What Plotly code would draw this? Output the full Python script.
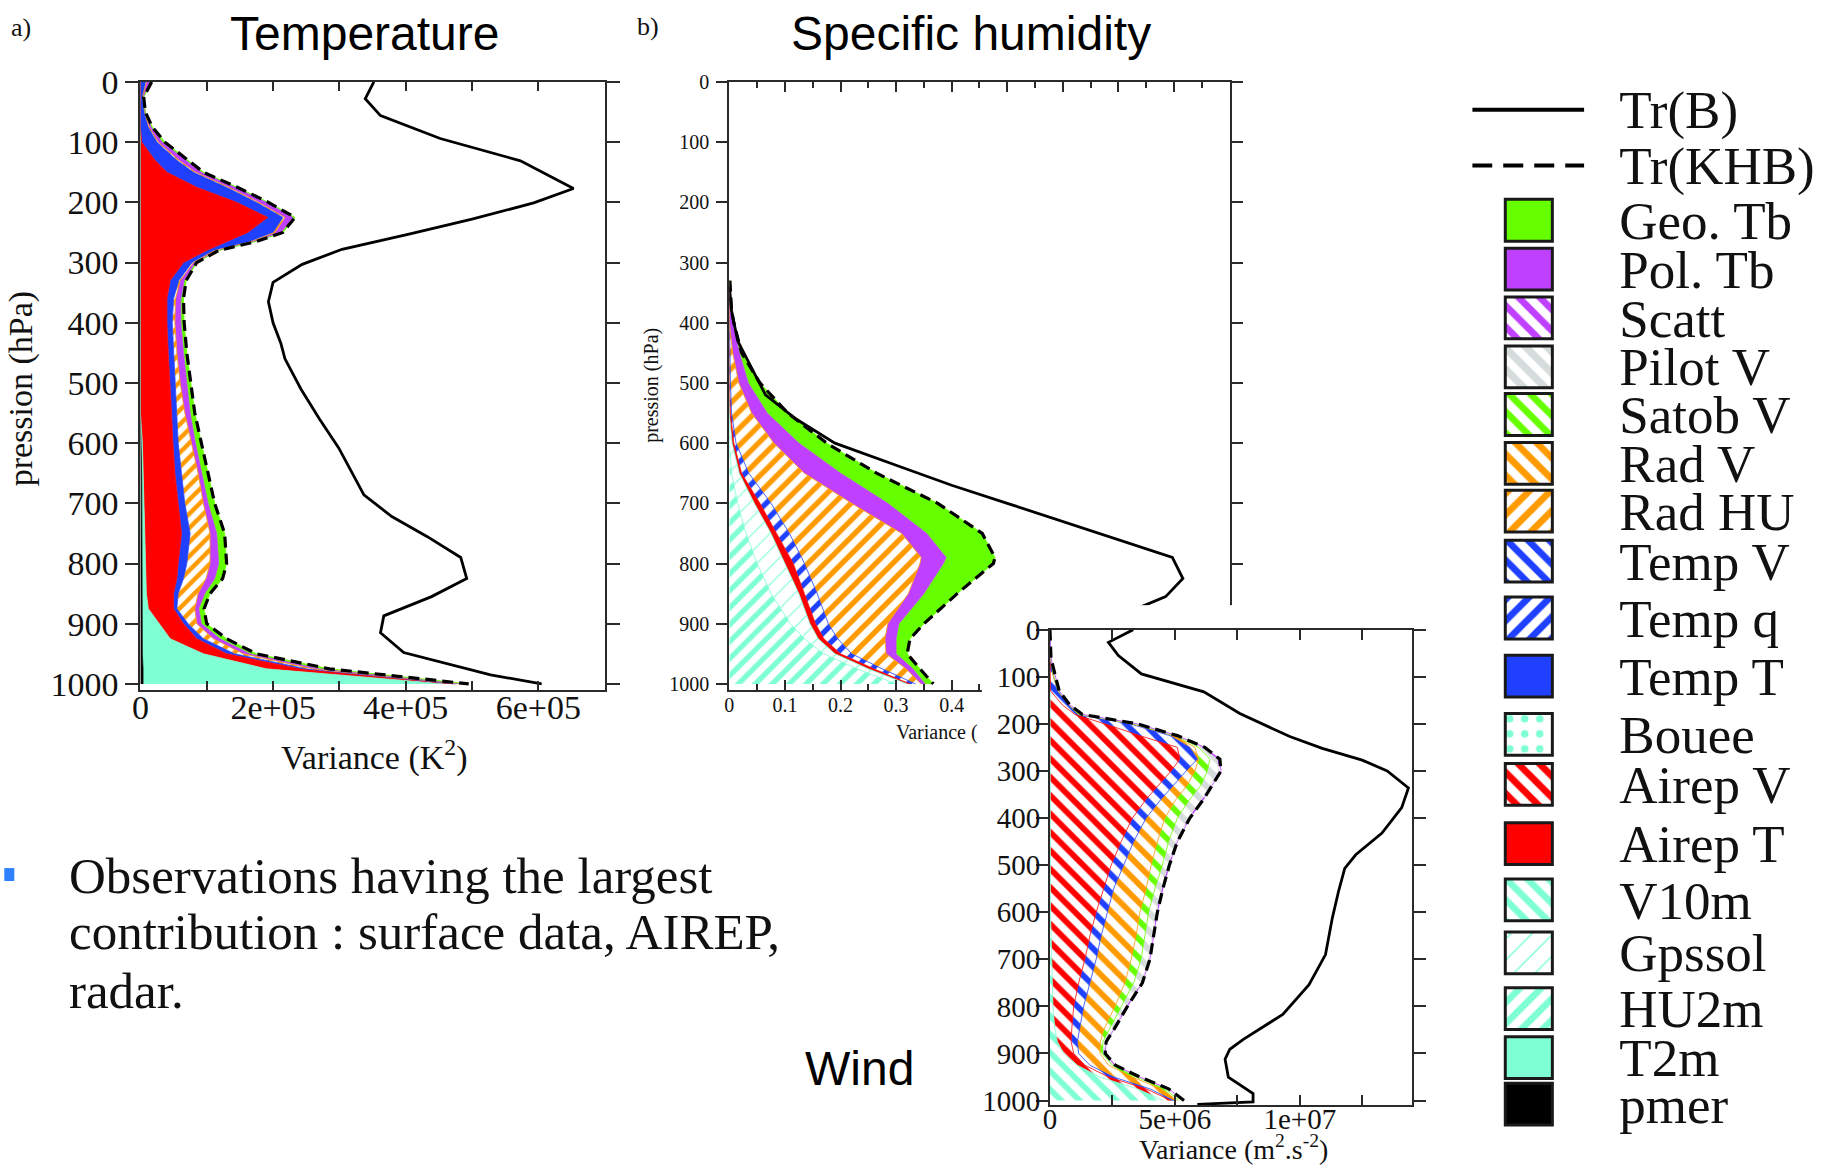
import numpy as np
import plotly.graph_objects as go

FIG_W, FIG_H = 1831, 1173

# ---------------------------------------------------------------- data
P_TICKS = [0, 100, 200, 300, 400, 500, 600, 700, 800, 900, 1000]

# Temperature: contributions to Tr(KHB), stored in units of 1e5 K^2
T_SCALE = 1e5
T_LEV = [0, 25, 50, 75, 100, 130, 150, 175, 200, 225, 250, 265, 280, 300, 330, 360,
         400, 450, 500, 550, 600, 650, 700, 750, 800, 825, 850, 875, 900, 925, 950, 975, 1000]
T_PMER = [0] * 20 + [0.01, 0.02, 0.02, 0.03, 0.03, 0.03, 0.03, 0.03, 0.03, 0.03, 0.03, 0.04, 0.04]
T_T2M = [0] * 20 + [0.02, 0.02, 0.03, 0.04, 0.05, 0.05, 0.06, 0.09, 0.25, 0.42, 0.92, 1.86, 4.56]
T_AIREP_T = [0, 0, 0, 0, 0.02, 0.22, 0.4, 0.85, 1.45, 1.92, 1.62, 1.3, 1.0, 0.65, 0.45, 0.4,
             0.4, 0.42, 0.45, 0.47, 0.46, 0.48, 0.52, 0.55, 0.49, 0.47, 0.41, 0.38, 0.37, 0.4, 0.35, 0.5, 0.12]
T_TEMP_T = [0.08, 0.03, 0.06, 0.12, 0.23, 0.33, 0.4, 0.45, 0.3, 0.23, 0.38, 0.35, 0.1, 0.13, 0.13, 0.1,
            0.08, 0.08, 0.08, 0.08, 0.08, 0.1, 0.1, 0.13, 0.13, 0.1, 0.07, 0.05, 0.07, 0.1, 0.12, 0.1, 0.04]
T_RAD_HU = [0.01, 0.005, 0.005, 0.01, 0.02, 0.03, 0.03, 0.03, 0.03, 0.03, 0.03, 0.03, 0.03, 0.02, 0.02, 0.03,
            0.04, 0.05, 0.07, 0.12, 0.2, 0.25, 0.28, 0.3, 0.35, 0.34, 0.3, 0.27, 0.13, 0.15, 0.13, 0.1, 0.06]
T_POL_TB = [0.05, 0.01, 0.007, 0.03, 0.06, 0.1, 0.09, 0.1, 0.12, 0.12, 0.09, 0.04, 0.03, 0.03, 0.06, 0.08,
            0.09, 0.1, 0.1, 0.08, 0.06, 0.05, 0.07, 0.1, 0.13, 0.13, 0.1, 0.06, 0.07, 0.1, 0.1, 0.1, 0.04]
T_GEO_TB = [0.03, 0.005, 0.003, 0.02, 0.04, 0.04, 0.03, 0.03, 0.03, 0.03, 0.03, 0.03, 0.02, 0.02, 0.03, 0.04,
            0.05, 0.05, 0.06, 0.07, 0.09, 0.1, 0.1, 0.12, 0.12, 0.12, 0.08, 0.08, 0.08, 0.1, 0.1, 0.15, 0.09]
T_TRB_LEV = [0, 28, 56, 94, 131, 177, 201, 228, 253, 278, 303, 333, 365, 400, 435, 460, 510, 560,
             608, 686, 722, 755, 790, 825, 855, 887, 915, 948, 985, 1000]
T_TRB = [3.52, 3.39, 3.62, 4.52, 5.73, 6.53, 5.93, 5.0, 4.05, 3.04, 2.44, 2.0, 1.93, 2.0, 2.12, 2.18, 2.42, 2.7,
         2.99, 3.37, 3.79, 4.32, 4.83, 4.92, 4.39, 3.67, 3.62, 3.97, 5.28, 6.05]
T_XTICKS = [0, 2e5, 4e5, 6e5]
T_XTICKTEXT = ["0", "2e+05", "4e+05", "6e+05"]

# Specific humidity: contributions to Tr(KHB)
Q_LEV = [330, 380, 400, 450, 500, 550, 600, 650, 700, 750, 790, 800, 850, 900, 925, 950, 975, 1000]
Q_HU2M = [0, 0, 0, 0, 0, 0, 0, 0.004, 0.015, 0.03, 0.045, 0.05, 0.075, 0.11, 0.135, 0.17, 0.23, 0.3]
Q_GPSSOL = [0, 0, 0, 0, 0, 0, 0.005, 0.014, 0.03, 0.045, 0.05, 0.05, 0.05, 0.035, 0.025, 0.02, 0.02, 0.02]
Q_AIREP_T = [0, 0, 0, 0, 0, 0.002, 0.003, 0.004, 0.01, 0.01, 0.013, 0.015, 0.01, 0.01, 0.01, 0.01, 0.01, 0.005]
Q_TEMP_Q = [0, 0, 0, 0.001, 0.002, 0.002, 0.004, 0.013, 0.02, 0.023, 0.022, 0.02, 0.023, 0.023, 0.025, 0.02, 0.015, 0.01]
Q_RAD_HU = [0, 0, 0, 0.005, 0.015, 0.036, 0.068, 0.1, 0.145, 0.202, 0.215, 0.208, 0.164, 0.107, 0.085, 0.062, 0.043, 0.01]
Q_POL_TB = [0, 0.002, 0.006, 0.012, 0.017, 0.028, 0.045, 0.065, 0.065, 0.045, 0.045, 0.042, 0.028, 0.02, 0.02, 0.018, 0.012, 0.007]
Q_GEO_TB = [0.001, 0.002, 0.002, 0.004, 0.021, 0.037, 0.05, 0.065, 0.09, 0.1, 0.088, 0.09, 0.06, 0.045, 0.025, 0.02, 0.013, 0.015]
Q_TRB_LEV = [340, 380, 430, 478, 520, 560, 600, 640, 670, 700, 730, 760, 790, 825, 855, 880]
Q_TRB = [0, 0.004, 0.015, 0.042, 0.065, 0.12, 0.19, 0.31, 0.4, 0.5, 0.6, 0.7, 0.797, 0.816, 0.785, 0.72]
Q_XTICKS = [0, 0.1, 0.2, 0.3, 0.4]

# Wind: contributions to Tr(KHB), stored in units of 1e6 m^2 s^-2
V_SCALE = 1e6
V_LEV = [0, 30, 60, 95, 130, 160, 180, 200, 225, 250, 275, 300, 330, 360, 400, 450, 500, 550,
         600, 650, 700, 750, 800, 850, 875, 900, 925, 950, 975, 1000]
V_V10M = [0] * 18 + [0.02, 0.05, 0.07, 0.09, 0.12, 0.2, 0.3, 0.55, 1.1, 2.0, 3.5, 4.55]
V_AIREP_V = [0, 0, 0, 0, 0.02, 0.5, 1.0, 2.2, 3.6, 5.1, 5.2, 4.85, 4.35, 3.85, 3.3, 2.85, 2.45, 2.15,
             1.83, 1.55, 1.33, 1.06, 0.83, 0.67, 0.55, 0.4, 0.3, 0.35, 0.35, 0.3]
V_TEMP_V = [0, 0.01, 0.03, 0.12, 0.28, 0.25, 0.1, 1.0, 1.2, 0.5, 0.7, 0.6, 0.6, 0.6, 0.55, 0.5, 0.5, 0.4,
            0.45, 0.45, 0.45, 0.45, 0.4, 0.31, 0.25, 0.2, 0.2, 0.2, 0.15, 0.1]
V_RAD_V = [0, 0, 0, 0, 0.02, 0.02, 0.05, 0.1, 0.2, 0.2, 0.05, 0.35, 0.55, 0.6, 0.75, 0.95, 1.1, 1.3,
           1.3, 1.4, 1.4, 1.4, 1.25, 0.97, 0.92, 0.85, 0.75, 0.75, 0.45, 0.15]
V_SATOB_V = [0, 0, 0, 0.02, 0.01, 0.01, 0.02, 0.05, 0.02, 0.15, 0.45, 0.5, 0.55, 0.55, 0.5, 0.45, 0.45, 0.35,
             0.35, 0.35, 0.4, 0.35, 0.25, 0.2, 0.1, 0.1, 0.15, 0.15, 0.15, 0.08]
V_PILOT_V = [0, 0, 0, 0.03, 0.02, 0.01, 0.08, 0.1, 0.05, 0.17, 0.3, 0.45, 0.37, 0.48, 0.43, 0.29, 0.23, 0.27,
             0.3, 0.3, 0.3, 0.3, 0.2, 0.16, 0.1, 0.08, 0.08, 0.1, 0.1, 0.13]
V_SCATT = [0, 0, 0.01, 0.03, 0.02, 0.01, 0.05, 0.05, 0.03, 0.08, 0.1, 0.1, 0.08, 0.07, 0.07, 0.06, 0.05, 0.05,
           0.05, 0.05, 0.05, 0.05, 0.05, 0.04, 0.03, 0.03, 0.04, 0.05, 0.05, 0.06]
V_TRB_LEV = [0, 27, 55, 94, 132, 178, 227, 252, 277, 300, 336, 378, 432, 478, 507, 556, 613, 690,
             754, 817, 870, 891, 912, 950, 985, 1003, 1008]
V_TRB = [3.33, 2.34, 2.74, 3.66, 6.16, 7.6, 9.6, 10.9, 12.5, 13.5, 14.35, 14.08, 13.29, 12.24, 11.8, 11.55, 11.3,
         11.03, 10.37, 9.32, 7.74, 7.2, 7.01, 7.14, 8.13, 8.13, 5.9]
V_XTICKS = [0, 5e6, 1e7]
V_XTICKTEXT = ["0", "5e+06", "1e+07"]

LEGEND_LABELS = ["Tr(B)", "Tr(KHB)", "Geo. Tb", "Pol. Tb", "Scatt", "Pilot V", "Satob V", "Rad V",
                 "Rad HU", "Temp V", "Temp q", "Temp T", "Bouee", "Airep V", "Airep T", "V10m",
                 "Gpssol", "HU2m", "T2m", "pmer"]

# ---------------------------------------------------------------- styles
GREEN, PURPLE, GREY = "#66ff00", "#bf40ff", "#d6dcdc"
ORANGE, BLUE, AQUA, RED, BLACK = "#ff9a00", "#1f40ff", "#7fffd4", "#ff0000", "#000000"
FRAME = "#2a2a2a"
SERIF = "Liberation Serif, Times New Roman, serif"
SANS = "Liberation Sans, Arial, sans-serif"

# name -> (colour, pattern shape, pattern solidity)
STYLE = {
    "Geo. Tb": (GREEN, "", 1), "Pol. Tb": (PURPLE, "", 1), "Scatt": (PURPLE, "\\", 0.45),
    "Pilot V": (GREY, "\\", 0.5), "Satob V": (GREEN, "\\", 0.45), "Rad V": (ORANGE, "\\", 0.45),
    "Rad HU": (ORANGE, "/", 0.45), "Temp V": (BLUE, "\\", 0.45), "Temp q": (BLUE, "/", 0.45),
    "Temp T": (BLUE, "", 1), "Bouee": (AQUA, ".", 0.2), "Airep V": (RED, "\\", 0.45),
    "Airep T": (RED, "", 1), "V10m": (AQUA, "\\", 0.45), "Gpssol": (AQUA, "/", 0.1),
    "HU2m": (AQUA, "/", 0.45), "T2m": (AQUA, "", 1), "pmer": (BLACK, "", 1),
}

# page placement of the chart inside the browser view (offset and scale)
OX, SX = 7.7, 0.995
OY, SY = 16.4, 0.9776


def px_x(px):
    return ((px - OX) / SX) / FIG_W


def px_y(py):
    return min(1.0, max(0.0, 1 - ((py - OY) / SY) / FIG_H))


fig = go.Figure()


def add_stack(series, levels, scale, xa, ya, group, size=12):
    for name, vals in series:
        color, shape, sol = STYLE[name]
        kw = dict(x=np.array(vals) * scale, y=levels, mode="lines", stackgroup=group,
                  orientation="h", line=dict(width=0.8, color=color), name=name,
                  xaxis=xa, yaxis=ya, showlegend=False, hoverinfo="skip")
        if shape:
            kw["fillpattern"] = dict(shape=shape, fgcolor=color, bgcolor="white", size=size,
                                     solidity=sol, fillmode="replace")
            kw["fillcolor"] = "white"
        else:
            kw["fillcolor"] = color
        fig.add_trace(go.Scatter(**kw))
    total = np.sum([np.array(v) for _, v in series], axis=0) * scale
    fig.add_trace(go.Scatter(x=total, y=levels, mode="lines", xaxis=xa, yaxis=ya,
                             line=dict(color=BLACK, width=3.2, dash="11px,6px"),
                             showlegend=False, hoverinfo="skip"))


def add_trb(vals, levels, scale, xa, ya):
    fig.add_trace(go.Scatter(x=np.array(vals) * scale, y=levels, mode="lines", xaxis=xa, yaxis=ya,
                             line=dict(color=BLACK, width=2.8), showlegend=False, hoverinfo="skip"))


# a) Temperature
add_stack([("pmer", T_PMER), ("T2m", T_T2M), ("Airep T", T_AIREP_T), ("Temp T", T_TEMP_T),
           ("Rad HU", T_RAD_HU), ("Pol. Tb", T_POL_TB), ("Geo. Tb", T_GEO_TB)],
          T_LEV, T_SCALE, "x", "y", "temp", size=10)
add_trb(T_TRB, T_TRB_LEV, T_SCALE, "x", "y")

# b) Specific humidity
add_stack([("HU2m", Q_HU2M), ("Gpssol", Q_GPSSOL), ("Airep T", Q_AIREP_T), ("Temp q", Q_TEMP_Q),
           ("Rad HU", Q_RAD_HU), ("Pol. Tb", Q_POL_TB), ("Geo. Tb", Q_GEO_TB)],
          Q_LEV, 1, "x2", "y2", "hum", size=12)
add_trb(Q_TRB, Q_TRB_LEV, 1, "x2", "y2")
# long top ticks of panel b every 0.1
fig.add_trace(go.Scatter(x=[], y=[], xaxis="x6", yaxis="y2", showlegend=False, hoverinfo="skip"))

# white inset backing for the wind panel (sits above panel b)
fig.add_trace(go.Scatter(x=[], y=[], xaxis="x3", yaxis="y3", showlegend=False, hoverinfo="skip"))

# Wind inset
add_stack([("V10m", V_V10M), ("Airep V", V_AIREP_V), ("Temp V", V_TEMP_V), ("Rad V", V_RAD_V),
           ("Satob V", V_SATOB_V), ("Pilot V", V_PILOT_V), ("Scatt", V_SCATT)],
          V_LEV, V_SCALE, "x4", "y4", "wind", size=13)
add_trb(V_TRB, V_TRB_LEV, V_SCALE, "x4", "y4")

# Legend keys: row centres in page pixels, swatch geometry in the key axis units
LEG_ROW_Y = [108.6, 164.6, 219.5, 268.6, 317.6, 366.7, 414.5, 463.6, 511.5, 561.7, 618.9, 677.3,
             735.7, 785.9, 845.4, 902.0, 955.2, 1011.2, 1060.3, 1107.0]
LEG_TOP, LEG_BOTTOM = 80.0, 1135.0
SW_X0, SW_W, SW_H = 0.295, 0.42, 42.0
for name, yc in zip(LEGEND_LABELS, LEG_ROW_Y):
    if name == "Tr(B)":
        fig.add_trace(go.Scatter(x=[0, 1], y=[yc, yc], mode="lines", xaxis="x5", yaxis="y5",
                                 line=dict(color=BLACK, width=4), showlegend=False, hoverinfo="skip"))
        continue
    if name == "Tr(KHB)":
        fig.add_trace(go.Scatter(x=[0, 1], y=[yc, yc], mode="lines", xaxis="x5", yaxis="y5",
                                 line=dict(color=BLACK, width=4, dash="20px,11px"),
                                 showlegend=False, hoverinfo="skip"))
        continue
    color, shape, sol = STYLE[name]
    marker = dict(color=color, line=dict(color="#1a1a1a", width=3))
    if shape:
        marker["pattern"] = dict(shape=shape, fgcolor=color, bgcolor="white", size=15,
                                 solidity=sol, fillmode="replace")
    fig.add_trace(go.Bar(x=[SW_W], base=[SW_X0], y=[yc], width=SW_H, orientation="h",
                         marker=marker, xaxis="x5", yaxis="y5", showlegend=False, hoverinfo="skip"))


# ---------------------------------------------------------------- axes
def frame(**kw):
    base = dict(showline=True, linecolor=FRAME, linewidth=2, mirror="ticks", showgrid=False,
                zeroline=False, tickcolor=FRAME, tickwidth=2, fixedrange=True)
    base.update(kw)
    return base


def serif(size):
    return dict(family=SERIF, size=size, color="#111")


PANEL_Y = [px_y(691.1), px_y(80.6)]

fig.update_layout(
    width=FIG_W, height=FIG_H, autosize=False,
    margin=dict(l=0, r=0, t=0, b=0, pad=0),
    paper_bgcolor="white", plot_bgcolor="white", barmode="overlay",
    showlegend=False,
    xaxis=frame(domain=[px_x(140), px_x(604)], range=[0, 7e5], anchor="y", ticks="inside", ticklen=9,
                tickmode="array", tickvals=T_XTICKS, ticktext=T_XTICKTEXT, ticklabelstandoff=-14,
                minor=dict(dtick=1e5, tick0=0, ticks="inside", ticklen=9, tickwidth=2, tickcolor=FRAME),
                tickfont=serif(34)),
    yaxis=frame(domain=PANEL_Y, range=[1010, 0], anchor="x", ticks="outside", ticklen=13,
                tickmode="array", tickvals=P_TICKS, tickfont=serif(34)),
    xaxis2=frame(domain=[px_x(728.6), px_x(1228.5)], range=[0, 0.9], anchor="y2", ticks="inside",
                 ticklen=10, tickmode="array", tickvals=Q_XTICKS, ticklabelstandoff=-4,
                 minor=dict(dtick=0.05, tick0=0, ticks="inside", ticklen=6, tickwidth=1.5, tickcolor=FRAME),
                 tickfont=serif(20)),
    xaxis6=dict(overlaying="x2", side="top", anchor="y2", range=[0, 0.9], tick0=0, dtick=0.1,
                ticks="inside", ticklen=10, tickwidth=2, tickcolor=FRAME, showticklabels=False,
                showline=False, showgrid=False, zeroline=False, fixedrange=True),
    yaxis2=frame(domain=PANEL_Y, range=[1010, 0], anchor="x2", ticks="outside", ticklen=11,
                 tickmode="array", tickvals=P_TICKS, ticklabelstandoff=3, tickfont=serif(20)),
    xaxis3=dict(domain=[px_x(981), px_x(1460)], range=[0, 1], anchor="y3", visible=False, fixedrange=True),
    yaxis3=dict(domain=[0, px_y(606)], range=[0, 1], anchor="x3", visible=False, fixedrange=True),
    xaxis4=frame(domain=[px_x(1049), px_x(1411)], range=[0, 1.45e7], anchor="y4", ticks="inside",
                 ticklen=10, tickmode="array", tickvals=V_XTICKS, ticktext=V_XTICKTEXT,
                 ticklabelstandoff=-13,
                 minor=dict(dtick=2.5e6, tick0=0, ticks="inside", ticklen=10, tickwidth=2, tickcolor=FRAME),
                 tickfont=serif(29)),
    yaxis4=frame(domain=[px_y(1108.2), px_y(630.6)], range=[1010, 0], anchor="x4", ticks="outside",
                 ticklen=12, tickmode="array", tickvals=P_TICKS, ticklabelstandoff=-10,
                 tickfont=serif(29)),
    xaxis5=dict(domain=[px_x(1471), px_x(1583)], range=[0, 1], anchor="y5", visible=False, fixedrange=True),
    yaxis5=dict(domain=[px_y(LEG_BOTTOM), px_y(LEG_TOP)], range=[LEG_BOTTOM, LEG_TOP], anchor="x5",
                side="right", tickmode="array", tickvals=LEG_ROW_Y, ticktext=LEGEND_LABELS,
                ticks="", showline=False, showgrid=False, zeroline=False, ticklabelstandoff=34,
                tickfont=serif(53), fixedrange=True),
)


# ---------------------------------------------------------------- text
def note(text, x, y, size, family=SERIF, xanchor="center", angle=0, color="#111"):
    fig.add_annotation(text=text, x=px_x(x), y=px_y(y), xref="paper", yref="paper",
                       xanchor=xanchor, yanchor="middle", showarrow=False, textangle=angle,
                       font=dict(family=family, size=size, color=color))


note("Temperature", 364, 32, 48, SANS, color="#000")
note("Specific humidity", 970, 32, 48, SANS, color="#000")
note("Wind", 859, 1071, 48, SANS, color="#000")
note("a)", 21, 26, 26)
note("b)", 647, 25, 26)
note("Variance (K<sup>2</sup>)", 374, 757, 34)
note("pression (hPa)", 21, 389, 34, angle=-90)
note("pression (hPa)", 650, 385, 20, angle=-90)
note("Variance (", 979, 734, 20, xanchor="right")
note("Variance (m<sup>2</sup>.s<sup>-2</sup>)", 1232, 1151, 28)
note("Observations having the largest", 67, 878, 51, xanchor="left")
note("contribution : surface data, AIREP,", 67, 934, 51, xanchor="left")
note("radar.", 67, 993, 51, xanchor="left")

fig.add_shape(type="rect", xref="paper", yref="paper", x0=px_x(4), x1=px_x(14),
              y0=px_y(883), y1=px_y(870), fillcolor="#2f80ff", line=dict(width=0))

# pin the chart to the top-left corner of the page
PIN_JS = ("var gd=document.getElementById('{plot_id}');"
          "gd.style.position='fixed';gd.style.left='0px';gd.style.top='0px';"
          "document.body.style.margin='0';")

fig.write_html("out.html", post_script=PIN_JS)
